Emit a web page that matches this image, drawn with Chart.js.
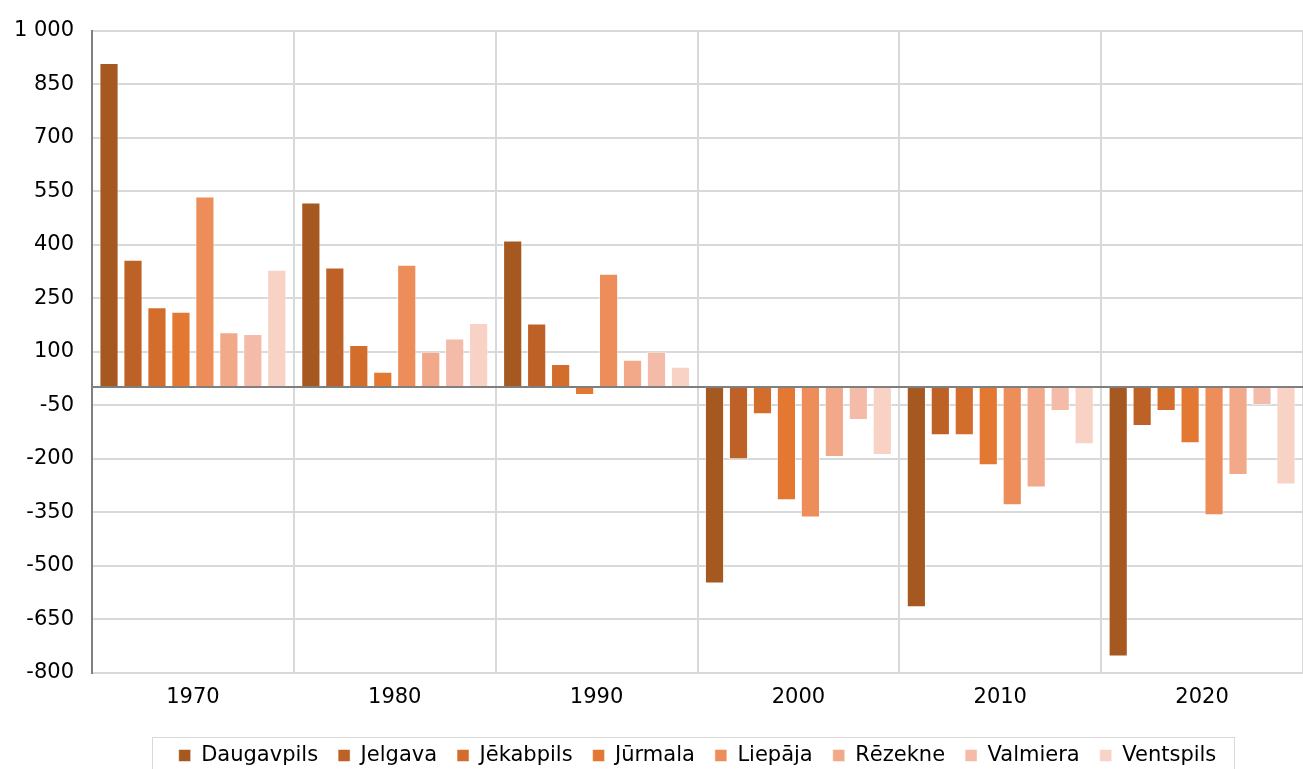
<!DOCTYPE html>
<html>
<head>
<meta charset="utf-8">
<script src="https://cdn.jsdelivr.net/npm/chart.js@4.4.1/dist/chart.umd.min.js"></script>
<style>
  html, body { margin: 0; padding: 0; background: #fff; }
  #wrap { width: 1303px; height: 769px; position: relative; }
</style>
</head>
<body>
<div id="wrap"><canvas id="chart"></canvas></div>
<script>
const years = ["1970", "1980", "1990", "2000", "2010", "2020"];
const cities = ["Daugavpils", "Jelgava", "Jēkabpils", "Jūrmala", "Liepāja", "Rēzekne", "Valmiera", "Ventspils"];
const cityColors = ["#A65821", "#BD6126", "#D26D2C", "#E37833", "#ED8E5A", "#F1A98A", "#F4BCA8", "#F7D2C5"];

// per pilsēta: vērtības 1970..2020
const daugavpils = [909, 518, 412, -549, -616, -754];
const jelgava    = [358, 336, 179, -201, -134, -108];
const jekabpils  = [225, 119, 66, -75, -134, -66];
const jurmala    = [212, 44, -21, -316, -218, -156];
const liepaja    = [535, 344, 319, -364, -330, -358];
const rezekne    = [155, 100, 78, -195, -280, -245];
const valmiera   = [150, 137, 100, -91, -66, -49];
const ventspils  = [330, 181, 58, -189, -159, -272];

const seriesValues = [daugavpils, jelgava, jekabpils, jurmala, liepaja, rezekne, valmiera, ventspils];

const FONT = "'DejaVu Sans', Verdana, sans-serif";

// rāmis ap leģendu + nulles līnija virs stabiņiem
const extras = {
  id: "extras",
  afterDatasetsDraw(chart) {
    const y = chart.scales.y;
    const a = chart.chartArea;
    const ctx = chart.ctx;
    const y0 = Math.round(y.getPixelForValue(0));
    ctx.save();
    ctx.strokeStyle = "#7f7f7f";
    ctx.lineWidth = 2;
    ctx.beginPath();
    ctx.moveTo(a.left, y0);
    ctx.lineTo(a.right, y0);
    ctx.stroke();
    ctx.restore();
  },
  afterDraw(chart) {
    const l = chart.legend;
    if (!l || !l.legendHitBoxes.length) return;
    const boxes = l.legendHitBoxes;
    const left = Math.min(...boxes.map((b) => b.left)) - 27;
    const right = Math.max(...boxes.map((b) => b.left + b.width)) + 17;
    const top = boxes[0].top - 8;
    const ctx = chart.ctx;
    ctx.save();
    ctx.strokeStyle = "#d9d9d9";
    ctx.lineWidth = 1;
    ctx.strokeRect(Math.round(left) + 0.5, Math.round(top) + 0.5, Math.round(right - left), 60);
    ctx.restore();
  }
};

new Chart(document.getElementById("chart"), {
  type: "bar",
  data: {
    labels: years,
    datasets: cities.map((c, i) => ({
      label: c,
      data: seriesValues[i],
      backgroundColor: cityColors[i],
      borderColor: "rgba(255,255,255,0.5)",
      borderWidth: 1,
      categoryPercentage: 0.95,
      barPercentage: 0.8,
    })),
  },
  options: {
    responsive: true,
    maintainAspectRatio: false,
    animation: false,
    layout: { autoPadding: false, padding: { top: 20, right: 0, left: 8, bottom: -7 } },
    scales: {
      x: {
        afterFit: (s) => { s.height = 52; },
        grid: { color: "#d9d9d9", offset: true, drawTicks: false, lineWidth: 2 },
        border: { display: false },
        ticks: { color: "#000", padding: 12, font: { family: FONT, size: 21 } },
      },
      y: {
        min: -800,
        max: 1000,
        afterFit: (s) => { s.width = 84; },
        ticks: {
          stepSize: 150,
          color: "#000",
          padding: 18,
          font: { family: FONT, size: 21 },
          callback: (v) => (v >= 1000 ? "1 000" : String(v)),
        },
        grid: {
          drawTicks: false,
          lineWidth: 2,
          color: "#d9d9d9",
        },
        border: { display: true, color: "#7f7f7f", width: 2 },
      },
    },
    plugins: {
      legend: {
        position: "bottom",
        fullSize: false,
        labels: {
          boxWidth: 12,
          boxHeight: 12,
          padding: 20,
          color: "#000",
          font: { family: FONT, size: 21 },
        },
      },
      tooltip: { enabled: false },
    },
  },
  plugins: [extras],
});
</script>
</body>
</html>
